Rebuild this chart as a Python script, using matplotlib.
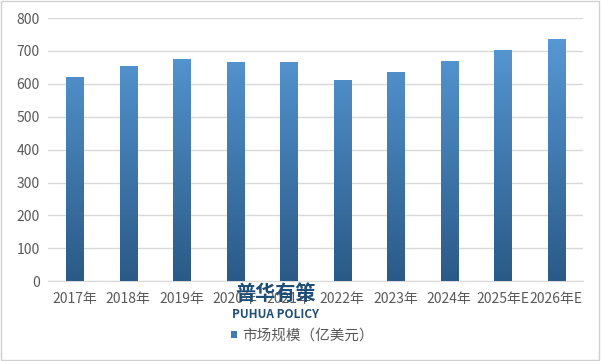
import matplotlib

matplotlib.use("Agg")

import matplotlib.pyplot as plt
import numpy as np
from matplotlib.colors import LinearSegmentedColormap
from matplotlib.patches import Rectangle

plt.rcParams["font.family"] = ["Noto Sans CJK SC", "DejaVu Sans"]

years = ["2017年", "2018年", "2019年", "2020年", "2021年", "2022年",
         "2023年", "2024年", "2025年E", "2026年E"]
market_size = [621, 655, 676, 667, 667, 612, 636, 670, 703, 737]
y_ticks = [0, 100, 200, 300, 400, 500, 600, 700, 800]

grad = LinearSegmentedColormap.from_list("bar", ["#2a5a87", "#5a9ddb"])

fig = plt.figure(figsize=(6.01, 3.61), dpi=100)
fig.patches.append(Rectangle((0.002, 0.003), 0.995, 0.994, transform=fig.transFigure,
                             fill=False, edgecolor="#d0d0d0", linewidth=1))
ax = fig.add_axes([0.080, 0.221, 0.890, 0.729])

x = np.arange(len(years))
bars = ax.bar(x, market_size, width=0.32, color="none", zorder=3)
ax.set_xlim(-0.5, len(years) - 0.5)
ax.set_ylim(0, 800)

# vertical gradient fill, clipped to each bar
img = np.linspace(0, 1, 256).reshape(-1, 1)
for b in bars:
    x0, w, h = b.get_x(), b.get_width(), b.get_height()
    im = ax.imshow(img, cmap=grad, origin="lower", aspect="auto",
                   extent=(x0, x0 + w, 0, 800), zorder=3)
    im.set_clip_path(Rectangle((x0, 0), w, h, transform=ax.transData))

ax.set_yticks(y_ticks)
ax.set_xticks(x)
ax.set_xticklabels(years)
ax.grid(axis="y", color="#d9d9d9", linewidth=1, zorder=0)
for s in ["top", "right", "left"]:
    ax.spines[s].set_visible(False)
ax.spines["bottom"].set_color("#d9d9d9")
ax.tick_params(axis="both", length=0, labelsize=10, labelcolor="#595959", pad=6)
ax.tick_params(axis="x", pad=8)

# legend
fig.patches.append(Rectangle((0.384, 0.064), 0.011, 0.018, transform=fig.transFigure,
                             facecolor="#3e7cb8", edgecolor="none"))
fig.text(0.403, 0.071, "市场规模（亿美元）", fontsize=10.5, color="#595959", va="center")

# watermark
fig.text(0.458, 0.188, "普华有策", fontsize=14.5, fontweight="bold", color="#1f4e79",
         ha="center", va="center", zorder=10)
fig.text(0.458, 0.130, "PUHUA POLICY", fontsize=8.5, fontweight="bold", color="#1f4e79",
         ha="center", va="center", zorder=10)

fig.savefig("out.png", dpi=100)
